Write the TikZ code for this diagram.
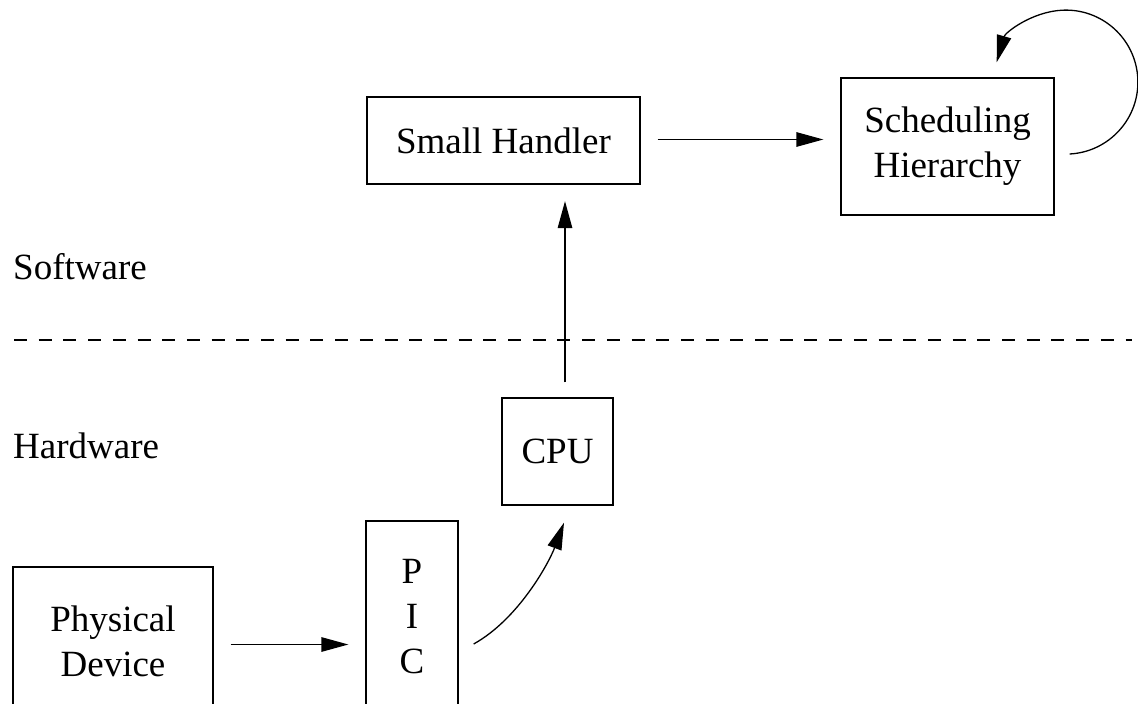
\documentclass[tikz,border=0pt]{standalone}
\usepackage{fontspec}
\setmainfont{Liberation Serif}
\usetikzlibrary{arrows.meta,calc}
\begin{document}
\begin{tikzpicture}[x=1pt,y=-1pt,
  every node/.style={font=\fontsize{37}{45}\selectfont},
  box/.style={draw, line width=1.3pt, align=center, inner sep=0pt},
  arr/.style={line width=1.3pt, -{Triangle[length=27pt,width=14.5pt]}},
  lbl/.style={inner sep=0pt, anchor=base west}]
\useasboundingbox (0,0) rectangle (1138,704);
\fill[white] (0,0) rectangle (1138,704);
% boxes
\node[box, minimum width=273pt, minimum height=87pt] (sh) at (503.5,140.5) {Small Handler};
\node[box, minimum width=213pt, minimum height=137pt] (sched) at (947.5,146.5) {Scheduling\\Hierarchy};
\node[box, minimum width=111pt, minimum height=107pt] (cpu) at (557.5,451.5) {CPU};
\node[box, minimum width=92pt, minimum height=192pt] (pic) at (412,617) {P\\I\\C};
\node[box, minimum width=200pt, minimum height=148pt] (pd) at (113,641) {Physical\\Device};
% labels
\node[lbl] (sw) at (13,279) {Software};
\node[lbl] (hw) at (13,458) {Hardware};
% separator
\draw[line width=1.3pt, dash pattern=on 13pt off 11.7pt] (14,340) -- (1132,340);
% connectors
\draw[arr] ([shift={(17,3.5)}]pd.east) -- ([shift={(-17,27.5)}]pic.west);
\draw[arr] ([shift={(15,27)}]pic.east) .. controls +(45,-25) and +(-15,40) .. ([shift={(6.5,17)}]cpu.south);
\draw[arr] ([shift={(7.5,-15)}]cpu.north) -- ([shift={(61.5,16.5)}]sh.south);
\draw[arr] ([shift={(17,-1)}]sh.east) -- ([shift={(-17,-7)}]sched.west);
\draw[arr] ([shift={(15,7.5)}]sched.east) arc[start angle=87, end angle=-164, radius=72];
\end{tikzpicture}
\end{document}
